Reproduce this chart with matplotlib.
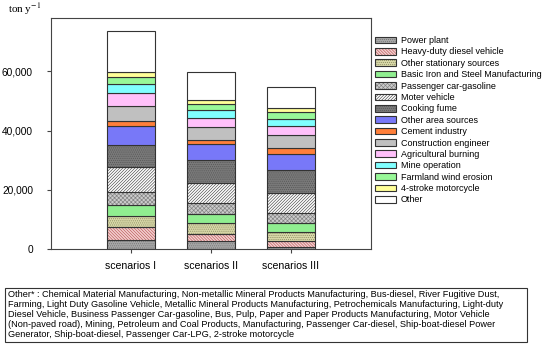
import matplotlib
matplotlib.use("Agg")
import matplotlib.pyplot as plt
from matplotlib.patches import Patch, Rectangle
from matplotlib.legend_handler import HandlerTuple
import numpy as np

plt.rcParams['font.family'] = ['Liberation Sans', 'DejaVu Sans']
plt.rcParams['hatch.linewidth'] = 0.45
plt.rcParams['mathtext.fontset'] = 'stix'

scenarios = ["scenarios I", "scenarios II", "scenarios III"]
categories = ["Power plant", "Heavy-duty diesel vehicle", "Other stationary sources",
              "Basic Iron and Steel Manufacturing", "Passenger car-gasoline", "Moter vehicle",
              "Cooking fume", "Other area sources", "Cement industry", "Construction engineer",
              "Agricultural burning", "Mine operation", "Farmland wind erosion",
              "4-stroke motorcycle", "Other"]
scen1 = [3160, 4170, 3720, 3730, 4510, 8350, 7330, 6650, 1700, 4960, 4400, 2930, 2600, 1690, 13760]
scen2 = [2820, 2260, 3830, 2820, 3840, 6650, 7780, 5420, 1470, 4280, 3160, 2480, 2030, 1580, 9370]
scen3 = [800, 1790, 3160, 3050, 3500, 6650, 7780, 5300, 2150, 4170, 3160, 2370, 2260, 1560, 7120]
yticks = [0, 20000, 40000, 60000]
ytick_labels = ["0", "20,000", "40,000", "60,000"]
footnote = ("Other* : Chemical Material Manufacturing, Non-metallic Mineral Products Manufacturing, Bus-diesel, River Fugitive Dust,\n"
            "Farming, Light Duty Gasoline Vehicle, Metallic Mineral Products Manufacturing, Petrochemicals Manufacturing, Light-duty\n"
            "Diesel Vehicle, Business Passenger Car-gasoline, Bus, Pulp, Paper and Paper Products Manufacturing, Motor Vehicle\n"
            "(Non-paved road), Mining, Petroleum and Coal Products, Manufacturing, Passenger Car-diesel, Ship-boat-diesel Power\n"
            "Generator, Ship-boat-diesel, Passenger Car-LPG, 2-stroke motorcycle")

# (facecolor, hatch, hatchcolor)
styles = [
    ('#a8a8a8', '.' * 8, '#707070'),
    ('#f4d0d0', '\\' * 11, '#b85858'),
    ('#d8d8a8', '.' * 8, '#8a8a60'),
    ('#90ee90', None, None),
    ('#cccccc', 'x' * 8, '#808080'),
    ('#ffffff', '/' * 11, '#484848'),
    ('#7a7a7a', '.' * 8, '#555555'),
    ('#7878f8', None, None),
    ('#ff7f3a', None, None),
    ('#c0c0c0', None, None),
    ('#ffc0fa', None, None),
    ('#80ffff', None, None),
    ('#98f898', None, None),
    ('#ffff98', None, None),
    ('#ffffff', None, None),
]

data = np.array([scen1, scen2, scen3]).T  # categories x scenarios
x = np.arange(len(scenarios))
width = 0.6

fig = plt.figure(figsize=(5.5, 3.44), dpi=100)
ax = fig.add_axes([51/550, (344-249)/344, (371-51)/550, (249-18)/344])

edge = '#333333'
bottom = np.zeros(len(scenarios))
handles = []
for i, cat in enumerate(categories):
    fc, hatch, hc = styles[i]
    vals = data[i]
    if hatch:
        ax.bar(x, vals, width, bottom=bottom, color=fc, hatch=hatch, edgecolor=hc, linewidth=0)
    else:
        ax.bar(x, vals, width, bottom=bottom, color=fc, linewidth=0)
    ax.bar(x, vals, width, bottom=bottom, fill=False, edgecolor=edge, linewidth=0.8)
    bottom += vals
    if hatch:
        h1 = Patch(facecolor=fc, hatch=hatch, edgecolor=hc, linewidth=0)
    else:
        h1 = Patch(facecolor=fc, linewidth=0)
    h2 = Patch(fill=False, edgecolor=edge, linewidth=0.8)
    handles.append((h1, h2))

ax.set_xlim(-1, 3)
ax.set_ylim(0, 78000)
ax.set_xticks(x)
ax.set_xticklabels(scenarios, fontsize=7.6)
ax.set_yticks(yticks)
ax.set_yticklabels(ytick_labels, fontsize=7.3)
for s in ax.spines.values():
    s.set_color('#444444')
    s.set_linewidth(0.8)
ax.tick_params(direction='out', length=3, width=0.8, color='#444444')
ax.tick_params(axis='x', pad=5.5)
ax.tick_params(axis='y', pad=10)

fig.text(8/550, 1 - 9/344, "ton y$^{-1}$", fontsize=8, va='center', ha='left',
         family='Liberation Serif')

fig.legend(handles, categories, handler_map={tuple: HandlerTuple(ndivide=1, pad=0)},
           loc='upper left', bbox_to_anchor=(375/550, 1 - 36/344), frameon=False,
           fontsize=6.5, handlelength=2.3, handleheight=0.75, handletextpad=0.55,
           labelspacing=0.265, borderpad=0, borderaxespad=0)

fig.add_artist(Rectangle((5/550, 1 - 342/344), (527-5)/550, (342-288)/344,
                         transform=fig.transFigure, fill=False, edgecolor='#333333', linewidth=0.8))
fig.text(8/550, 1 - 290/344, footnote, fontsize=6.6, va='top', ha='left', linespacing=1.13)

fig.savefig("out.png", dpi=100)
